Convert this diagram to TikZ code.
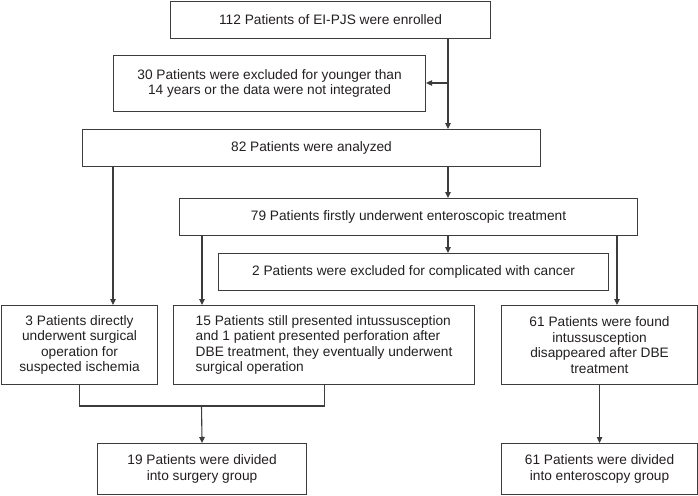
\documentclass[tikz,border=0pt]{standalone}
\usepackage{fontspec}
\setmainfont{Liberation Sans}
\usetikzlibrary{arrows.meta}
\definecolor{linec}{HTML}{3C3C3C}
\definecolor{textc}{HTML}{231F20}
\tikzset{
  box/.style={draw=linec, line width=1.1pt, rectangle, inner sep=0pt, anchor=north west,
    text=textc, font=\fontsize{13.7}{15.6}\selectfont, align=center},
  conn/.style={draw=linec, line width=1.1pt},
  arr/.style={conn, -{Triangle[length=6pt,width=5.5pt]}}
}
\begin{document}
\begin{tikzpicture}[x=1pt,y=-1pt]
\useasboundingbox (0,0) rectangle (698,495);
\node[box, minimum width=320pt, minimum height=37pt] (b1) at (170,0.6) {112 Patients of EI-PJS were enrolled};
\node[box, minimum width=312pt, minimum height=56pt] (b2) at (113,55) {30 Patients were excluded for younger than\\14 years or the data were not integrated};
\node[box, minimum width=458pt, minimum height=37pt] (b3) at (82,129) {82 Patients were analyzed};
\node[box, minimum width=458pt, minimum height=37pt] (b4) at (179,198) {79 Patients firstly underwent enteroscopic treatment};
\node[box, minimum width=390pt, minimum height=37pt] (b5) at (218,253) {2 Patients were excluded for complicated with cancer};
\node[box, minimum width=156pt, minimum height=79pt] (b6) at (1,305) {3 Patients directly\\underwent surgical\\operation for\\suspected ischemia};
\node[box, minimum width=301pt, minimum height=79pt, align=left] (b7) at (173,305) {15 Patients still presented intussusception\\and 1 patient presented perforation after\\DBE treatment, they eventually underwent\\surgical operation};
\node[box, minimum width=196pt, minimum height=79pt] (b8) at (501,305) {61 Patients were found\\intussusception\\disappeared after DBE\\treatment};
\node[box, minimum width=209pt, minimum height=51pt] (b9) at (97,443) {19 Patients were divided\\into surgery group};
\node[box, minimum width=196pt, minimum height=51pt] (b10) at (501,443) {61 Patients were divided\\into enteroscopy group};
% junction coordinates
\coordinate (j1) at (448,83);
\coordinate (xl) at (113,0);
\coordinate (xm) at (202,0);
\coordinate (xr) at (617,0);
\coordinate (jm) at (201.5,406);
% connectors
\draw[arr] (b1.south -| j1) -- (j1 |- b3.north);
\draw[arr] (j1) -- (b2.east |- j1);
\draw[arr] (b3.south -| xl) -- (xl |- b6.north);
\draw[arr] (b3.south -| j1) -- (j1 |- b4.north);
\draw[arr] (b4.south -| j1) -- (j1 |- b5.north);
\draw[arr] (b4.south -| xm) -- (xm |- b7.north);
\draw[arr] (b4.south -| xr) -- (xr |- b8.north);
\draw[conn] (b6.south) -- (b6.south |- jm) -- (b7.south |- jm) -- (b7.south);
\draw[arr] (jm) -- (b9.north);
\draw[arr] (b8.south) -- (b10.north);
\end{tikzpicture}
\end{document}
